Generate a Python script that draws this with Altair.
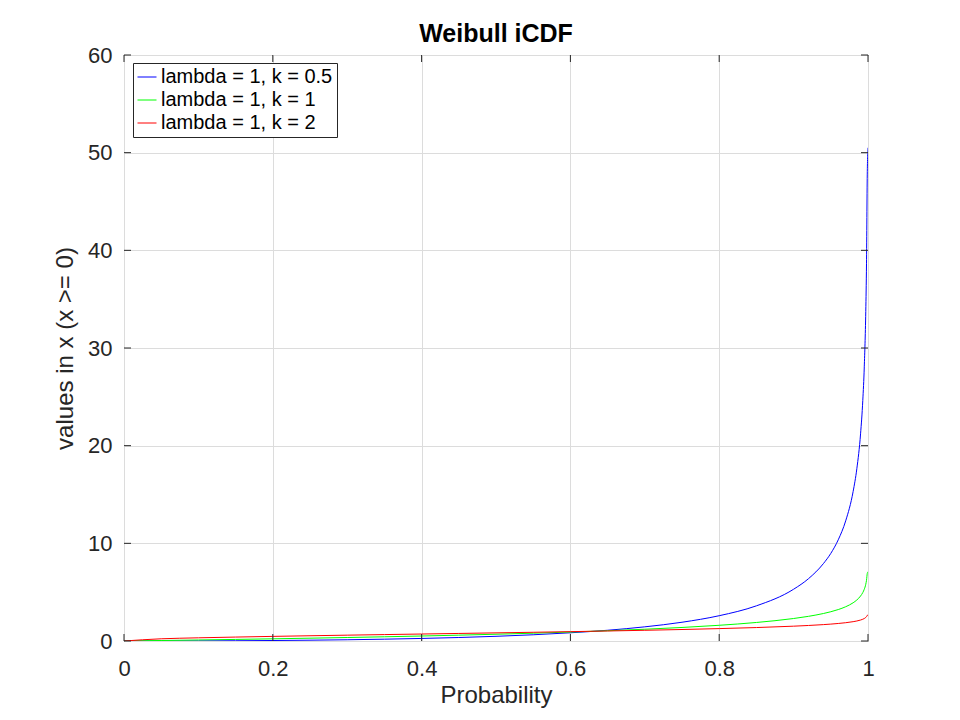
import altair as alt
import pandas as pd

# probabilities and the inverse-CDF values
prob = [0, 0.05, 0.1, 0.15, 0.2, 0.25, 0.3, 0.35, 0.4, 0.45, 0.5, 0.55, 0.6, 0.65,
        0.7, 0.75, 0.8, 0.85, 0.9, 0.92, 0.94, 0.95, 0.96, 0.97, 0.98, 0.985,
        0.99, 0.993, 0.995, 0.997, 0.998, 0.999, 1.0]
k05 = [0, 0.003, 0.011, 0.026, 0.05, 0.083, 0.127, 0.186, 0.261, 0.357, 0.48,
       0.638, 0.84, 1.10, 1.45, 1.92, 2.59, 3.60, 5.30, 6.38, 7.92, 8.97, 10.36,
       12.30, 15.30, 17.64, 21.21, 24.62, 28.07, 33.75, 38.62, 47.72, 50.5]
k1 = [0, 0.051, 0.105, 0.163, 0.223, 0.288, 0.357, 0.431, 0.511, 0.598, 0.693,
      0.799, 0.916, 1.05, 1.204, 1.386, 1.609, 1.897, 2.303, 2.526, 2.813, 2.996,
      3.219, 3.507, 3.912, 4.2, 4.605, 4.962, 5.298, 5.809, 6.215, 6.908, 7.1]
k2 = [0, 0.226, 0.325, 0.403, 0.472, 0.536, 0.597, 0.656, 0.715, 0.773, 0.833,
      0.894, 0.957, 1.025, 1.097, 1.177, 1.269, 1.377, 1.517, 1.589, 1.677, 1.731,
      1.794, 1.873, 1.978, 2.049, 2.146, 2.228, 2.302, 2.41, 2.493, 2.628, 2.66]

series = ["lambda = 1, k = 0.5", "lambda = 1, k = 1", "lambda = 1, k = 2"]
colors = ["#0000ff", "#00ff00", "#ff0000"]
x_ticks = [0, 0.2, 0.4, 0.6, 0.8, 1.0]
y_ticks = [0, 10, 20, 30, 40, 50, 60]

W, H = 744, 586
FONT = "Liberation Sans"

rows = []
for name, vals in zip(series, [k05, k1, k2]):
    for p, v in zip(prob, vals):
        rows.append({"p": p, "x": v, "series": name, "order": p})
df = pd.DataFrame(rows)

xs = alt.Scale(domain=[0, 1], nice=False, zero=False)
ys = alt.Scale(domain=[0, 60], nice=False)

lines = alt.Chart(df).mark_line(strokeWidth=1, clip=True, interpolate="monotone").encode(
    x=alt.X("p:Q", scale=xs, title="Probability",
            axis=alt.Axis(values=x_ticks, format="~g", ticks=False, domain=False,
                          labelFlush=False, labelPadding=17, titleY=61,
                          titleBaseline="alphabetic")),
    y=alt.Y("x:Q", scale=ys, title="values in x (x >= 0)",
            axis=alt.Axis(values=y_ticks, ticks=False, domain=False,
                          labelPadding=12, titlePadding=10)),
    color=alt.Color("series:N", scale=alt.Scale(domain=series, range=colors),
                    legend=alt.Legend(title=None, orient="none", legendX=9, legendY=8,
                                      symbolType="stroke", symbolSize=361,
                                      symbolStrokeWidth=1, labelFontSize=20,
                                      labelFont=FONT, labelColor="#000000",
                                      labelLimit=400, labelOffset=4, rowPadding=3,
                                      padding=4, strokeColor="#262626",
                                      fillColor="white")),
    order="order:Q",
)

xt = pd.DataFrame({"t": x_ticks})
yt = pd.DataFrame({"t": y_ticks})
tick_col = "#262626"
bottom = alt.Chart(xt).mark_rule(color=tick_col).encode(
    x=alt.X("t:Q", scale=xs), y=alt.value(H), y2=alt.value(H - 7))
top = alt.Chart(xt).mark_rule(color=tick_col).encode(
    x=alt.X("t:Q", scale=xs), y=alt.value(0), y2=alt.value(7))
left = alt.Chart(yt).mark_rule(color=tick_col).encode(
    y=alt.Y("t:Q", scale=ys), x=alt.value(0), x2=alt.value(7))
right = alt.Chart(yt).mark_rule(color=tick_col).encode(
    y=alt.Y("t:Q", scale=ys), x=alt.value(W), x2=alt.value(W - 7))

chart = alt.layer(lines, bottom, top, left, right).properties(
    width=W, height=H,
    title=alt.TitleParams("Weibull iCDF", fontSize=25, fontWeight="bold",
                          font=FONT, color="#000000", offset=8, dy=11),
    autosize=alt.AutoSizeParams(type="none"),
    padding={"left": 116, "top": 47, "right": 10, "bottom": 70},
).configure_view(
    stroke=tick_col, strokeWidth=1
).configure_axis(
    labelFont=FONT, labelFontSize=22, labelColor="#262626",
    titleFont=FONT, titleFontSize=24, titleFontWeight="normal", titleColor="#262626",
    gridColor="#dcdcdc", gridWidth=1,
)

chart.save("out.html", embed_options={"renderer": "svg", "actions": False})
